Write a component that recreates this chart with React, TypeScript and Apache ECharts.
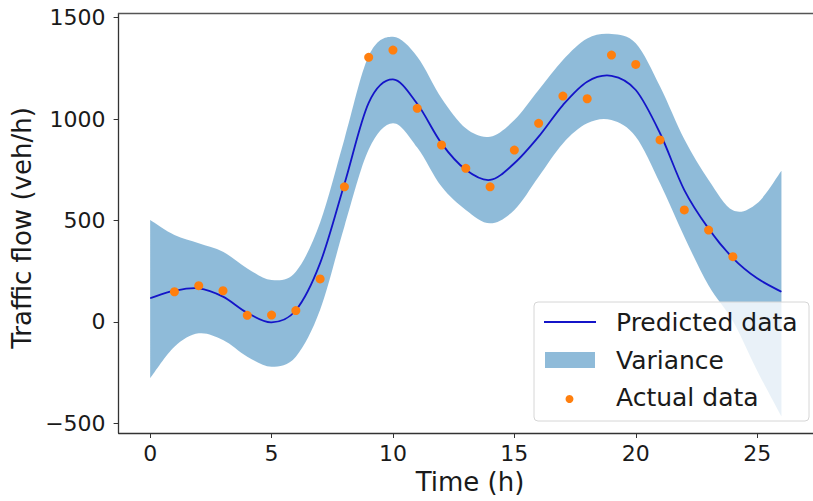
import React, { useEffect, useRef } from "react";
import * as echarts from "echarts";

// Hours of the day sampled by the model
const hours = [0, 1, 2, 3, 4, 5, 6, 7, 8, 9, 10, 11, 12, 13, 14, 15, 16, 17, 18, 19, 20, 21, 22, 23, 24, 25, 26];

// Predicted mean traffic flow (veh/h)
const predicted = [117, 154, 166, 125, 45, -2, 58, 290, 680, 1080, 1195, 1075, 880, 750, 700, 782, 913, 1069, 1184, 1213, 1143, 930, 650, 460, 315, 215, 149];

// Upper and lower limits of the variance band (veh/h)
const upperBand = [502, 428, 388, 346, 264, 207, 248, 490, 900, 1310, 1405, 1307, 1102, 954, 913, 995, 1143, 1291, 1397, 1419, 1373, 1160, 900, 700, 550, 585, 745];
const lowerBand = [-277, -122, -56, -89, -171, -220, -171, 60, 470, 850, 979, 860, 667, 552, 486, 552, 716, 880, 979, 995, 913, 683, 420, 180, 5, -240, -466];

// Observed hourly counts
const actualHours = [1, 2, 3, 4, 5, 6, 7, 8, 9, 10, 11, 12, 13, 14, 15, 16, 17, 18, 19, 20, 21, 22, 23, 24];
const actualFlow = [149, 179, 154, 33, 34, 56, 212, 666, 1304, 1340, 1053, 872, 757, 666, 847, 979, 1113, 1100, 1315, 1269, 897, 552, 453, 322];

// Tick labels
const xTicks = [0, 5, 10, 15, 20, 25];
const yTicks = [-500, 0, 500, 1000, 1500];

const FONT = "'DejaVu Sans', 'Liberation Sans', sans-serif";
const BAND_COLOR = "rgba(31,119,180,0.5)";
const LINE_COLOR = "#1414c8";
const DOT_COLOR = "#ff7f0e";

type Pt = number[];

// Cubic Catmull-Rom segments through pixel points (continues an open path)
function splineSegments(pts: Pt[]): string {
  let d = "";
  for (let i = 0; i < pts.length - 1; i++) {
    const p0 = pts[Math.max(0, i - 1)];
    const p1 = pts[i];
    const p2 = pts[i + 1];
    const p3 = pts[Math.min(pts.length - 1, i + 2)];
    const c1x = p1[0] + (p2[0] - p0[0]) / 6;
    const c1y = p1[1] + (p2[1] - p0[1]) / 6;
    const c2x = p2[0] - (p3[0] - p1[0]) / 6;
    const c2y = p2[1] - (p3[1] - p1[1]) / 6;
    d += ` C${c1x},${c1y} ${c2x},${c2y} ${p2[0]},${p2[1]}`;
  }
  return d;
}

export default function App() {
  const ref = useRef<HTMLDivElement>(null);

  useEffect(() => {
    if (!ref.current) return;
    const chart = echarts.init(ref.current, undefined, { renderer: "svg" });

    const dotData = actualHours.map((h, i) => [h, actualFlow[i]]);

    const minus = (v: number) => String(v).replace("-", "\u2212");

    // shaded band between the upper and lower limits
    const renderBand = (_params: any, api: any) => {
      const top = hours.map((h, i) => api.coord([h, upperBand[i]]));
      const bottom = hours.map((h, i) => api.coord([h, lowerBand[i]])).reverse();
      const d =
        `M${top[0][0]},${top[0][1]}` +
        splineSegments(top) +
        ` L${bottom[0][0]},${bottom[0][1]}` +
        splineSegments(bottom) +
        " Z";
      return {
        type: "path",
        shape: { pathData: d },
        style: { fill: BAND_COLOR, stroke: "none" },
      };
    };

    // smooth curve of the predicted mean
    const renderPrediction = (_params: any, api: any) => {
      const pts = hours.map((h, i) => api.coord([h, predicted[i]]));
      const d = `M${pts[0][0]},${pts[0][1]}` + splineSegments(pts);
      return {
        type: "path",
        shape: { pathData: d },
        style: { fill: "none", stroke: LINE_COLOR, lineWidth: 1.8 },
      };
    };

    chart.setOption({
      animation: false,
      backgroundColor: "#ffffff",
      grid: { left: 118.6, top: 13.5, width: 705.6, height: 419.5, containLabel: false },
      xAxis: [
        {
          type: "value",
          min: -1.3,
          max: 27.3,
          z: 5,
          axisLine: { show: true, onZero: false, lineStyle: { color: "#333", width: 1.3 } },
          axisTick: { show: true, length: 5, customValues: xTicks, lineStyle: { color: "#333", width: 1 } },
          axisLabel: {
            customValues: xTicks,
            margin: 9,
            fontSize: 22,
            fontFamily: FONT,
            color: "#1a1a1a",
          },
          splitLine: { show: false },
        },
        {
          type: "value",
          position: "top",
          min: -1.3,
          max: 27.3,
          z: 5,
          axisLine: { show: true, onZero: false, lineStyle: { color: "#555", width: 1.3 } },
          axisTick: { show: false },
          axisLabel: { show: false },
          splitLine: { show: false },
        },
      ],
      yAxis: {
        type: "value",
        min: -547,
        max: 1520,
        z: 5,
        axisLine: { show: true, onZero: false, lineStyle: { color: "#333", width: 1.3 } },
        axisTick: { show: true, length: 5, customValues: yTicks, lineStyle: { color: "#333", width: 1 } },
        axisLabel: {
          customValues: yTicks,
          margin: 13,
          fontSize: 22,
          fontFamily: FONT,
          color: "#1a1a1a",
          formatter: (v: number) => minus(v),
        },
        splitLine: { show: false },
      },
      series: [
        {
          name: "Variance",
          type: "custom",
          data: [[0, 0]],
          renderItem: renderBand,
          silent: true,
          z: 1,
        },
        {
          name: "Predicted data",
          type: "custom",
          data: [[0, 0]],
          renderItem: renderPrediction,
          silent: true,
          z: 3,
        },
        {
          name: "Actual data",
          type: "scatter",
          data: dotData,
          symbol: "circle",
          symbolSize: 9,
          itemStyle: { color: DOT_COLOR, opacity: 1 },
          z: 4,
        },
      ],
      graphic: [
        // axis titles
        {
          type: "text",
          x: 470,
          y: 482,
          z: 10,
          style: {
            text: "Time (h)",
            font: `26px ${FONT}`,
            fill: "#1a1a1a",
            align: "center",
            verticalAlign: "middle",
            textAlign: "center",
            textVerticalAlign: "middle",
          },
        },
        {
          type: "text",
          x: 22,
          y: 228,
          rotation: Math.PI / 2,
          z: 10,
          style: {
            text: "Traffic flow (veh/h)",
            font: `26px ${FONT}`,
            fill: "#1a1a1a",
            align: "center",
            verticalAlign: "middle",
            textAlign: "center",
            textVerticalAlign: "middle",
          },
        },
        // legend
        {
          type: "group",
          z: 20,
          children: [
            {
              type: "rect",
              shape: { x: 534, y: 302, width: 275, height: 119, r: 4 },
              style: { fill: "rgba(255,255,255,0.8)", stroke: "#d6d6d6", lineWidth: 1 },
              z: 20,
            },
            {
              type: "line",
              shape: { x1: 544, y1: 322, x2: 596, y2: 322 },
              style: { stroke: LINE_COLOR, lineWidth: 2 },
              z: 21,
            },
            {
              type: "rect",
              shape: { x: 545, y: 352, width: 50, height: 16 },
              style: { fill: BAND_COLOR },
              z: 21,
            },
            {
              type: "circle",
              shape: { cx: 569.5, cy: 399, r: 4 },
              style: { fill: DOT_COLOR },
              z: 21,
            },
            ...[
              ["Predicted data", 322],
              ["Variance", 360],
              ["Actual data", 397],
            ].map(([t, y]) => ({
              type: "text",
              x: 616,
              y: y as number,
              z: 21,
              style: {
                text: t as string,
                font: `25px ${FONT}`,
                fill: "#1a1a1a",
                align: "left",
                verticalAlign: "middle",
                textAlign: "left",
                textVerticalAlign: "middle",
              },
            })),
          ],
        },
      ],
    });

    return () => chart.dispose();
  }, []);

  return (
    <div
      ref={ref}
      style={{ position: "absolute", left: 0, top: 0, width: 813, height: 501, background: "#fff" }}
    />
  );
}
